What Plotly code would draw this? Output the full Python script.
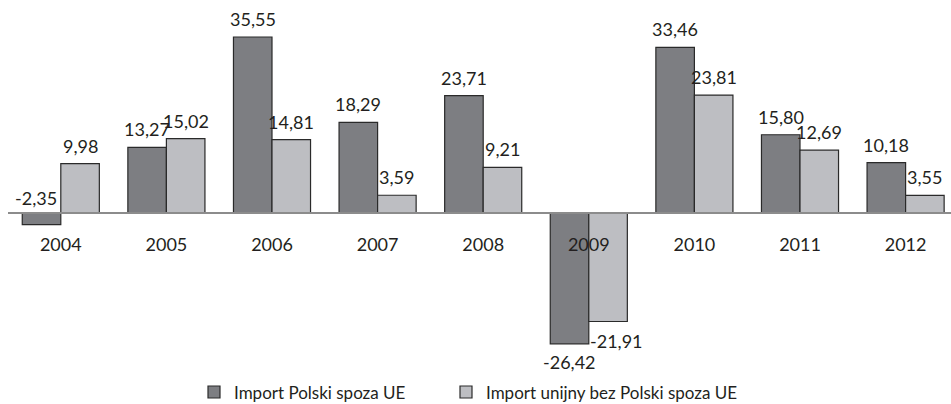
import plotly.graph_objects as go

# Dynamika importu (%), lata 2004-2012
years = ["2004", "2005", "2006", "2007", "2008", "2009", "2010", "2011", "2012"]
import_pl = [-2.35, 13.27, 35.55, 18.29, 23.71, -26.42, 33.46, 15.80, 10.18]
import_ue = [9.98, 15.02, 14.81, 3.59, 9.21, -21.91, 23.81, 12.69, 3.55]
series_names = ["Import Polski spoza UE", "Import unijny bez Polski spoza UE"]

W, H = 951, 404
FONT = "Lato"
TXT = "#231f20"
DARK = "#7d7e82"
LIGHT = "#bdbec2"
EDGE = "#2a2a2a"

# pixel geometry of the plot
x_left = 8
y_zero_px = 213          # pixel row of the zero line
px_per_unit = 4.951
y_top = y_zero_px / px_per_unit
y_bot = -(H - y_zero_px) / px_per_unit
cat_px = 105.6
x_max = -0.5 + (W - x_left) / cat_px
bar_half = 19.3          # half of one bar's pixel width (used for label offsets)


def fmt(v):
    return f"{v:.2f}".replace(".", ",")


fig = go.Figure()
for k, (name, vals, col) in enumerate([(series_names[0], import_pl, DARK),
                                        (series_names[1], import_ue, LIGHT)]):
    fig.add_trace(go.Bar(
        x=years, y=vals, name=name,
        marker=dict(color=col, line=dict(color=EDGE, width=1.2)),
        legend="legend" if k == 0 else "legend2",
    ))

# value labels; a few are nudged to avoid the axis and neighbours
nudge = {(0, 0): (-6, None, 15), (1, 5): (8, -20, None)}
anns = []
for s, vals in enumerate([import_pl, import_ue]):
    side = -bar_half if s == 0 else bar_half
    for i, v in enumerate(vals):
        dx, dy, dy_zero = nudge.get((s, i), (0, None, None))
        if dy_zero is not None:
            y, ys = 0, dy_zero
        else:
            y = v
            ys = dy if dy is not None else (18 if v >= 0 else -18)
        anns.append(dict(
            x=i, y=y, xref="x", yref="y", text=fmt(v), showarrow=False,
            xshift=side + dx, yshift=ys, yanchor="middle", xanchor="center",
            font=dict(family=FONT, size=18, color=TXT),
        ))

leg_common = dict(
    orientation="h", y=-0.016, yanchor="bottom",
    font=dict(family=FONT, size=17, color=TXT),
    bgcolor="rgba(0,0,0,0)", itemwidth=30,
)

fig.update_layout(
    width=W, height=H,
    margin=dict(l=0, r=0, t=0, b=0, autoexpand=False),
    paper_bgcolor="white", plot_bgcolor="white",
    barmode="group", bargap=0.27, bargroupgap=0,
    showlegend=True,
    legend=dict(x=194 / W, xanchor="left", **leg_common),
    legend2=dict(x=446 / W, xanchor="left", **leg_common),
    xaxis=dict(
        type="category", range=[-0.5, x_max], domain=[x_left / W, 1],
        anchor="free", position=(H - y_zero_px) / H,
        showline=True, linecolor="#8c8c8c", linewidth=1.5,
        showgrid=False, zeroline=False,
        ticks="outside", ticklen=16, tickcolor="rgba(0,0,0,0)",
        tickfont=dict(family=FONT, size=18, color=TXT),
    ),
    yaxis=dict(range=[y_bot, y_top], visible=False, showgrid=False, zeroline=False),
    annotations=anns,
)

fig.write_html("out.html")
